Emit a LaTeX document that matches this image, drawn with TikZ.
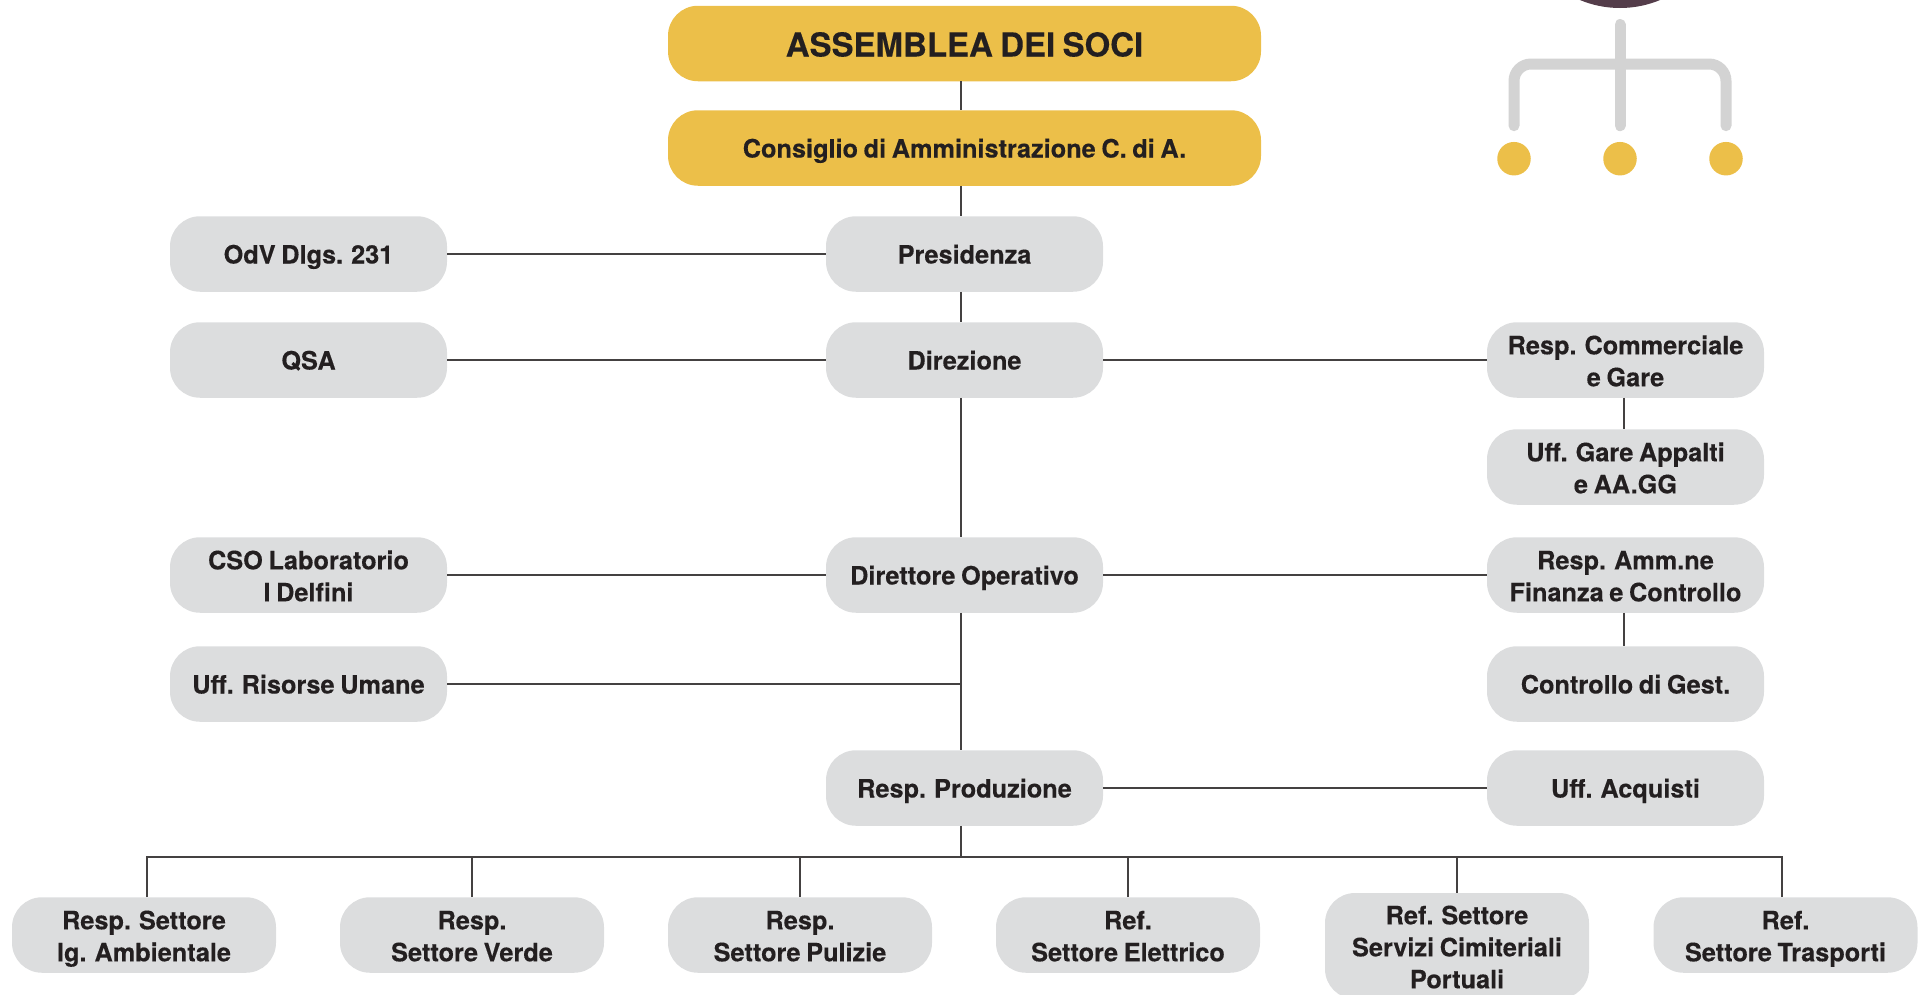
\documentclass[tikz,border=0pt]{standalone}
\usepackage{fontspec}
\setmainfont[WordSpace=0.8,BoldFeatures={FakeBold=0.25}]{TeX Gyre Heros}
\usetikzlibrary{
  calc
  , shapes.geometric
}
\definecolor{gold}{HTML}{ECBF49}
\definecolor{pale}{HTML}{DCDDDE}
\definecolor{ink}{HTML}{231F20}
\definecolor{iconbar}{HTML}{D3D3D3}
\definecolor{plum}{HTML}{543D4A}
\newcommand{\boxstrut}{\rule[-6pt]{0pt}{31pt}}
\newcommand{\lift}{\rule{0pt}{26.6pt}}
\tikzset{
  box/.style={rectangle,
    rounded corners=30pt,
    fill=pale,
    text=ink,
    align=center,
    inner sep=0pt,
    minimum width=277pt,
    minimum height=75.5pt,
    font=\fontsize{25.3}{32}\selectfont\bfseries,
    execute at begin node=\boxstrut,
    execute at end node=\boxstrut},
  lowbox/.style={box, minimum width=264pt},
  topbox/.style={box, fill=gold, minimum width=593pt},
  wire/.style={draw=ink!85, line width=1.3pt},
  iconline/.style={draw=iconbar, line width=11pt, line cap=round, rounded corners=17pt},
  icondot/.style={circle, fill=gold, minimum size=33.5pt, inner sep=0pt}
}
\begin{document}
\begin{tikzpicture}[x=1pt,y=-1pt]
      \useasboundingbox (0,0) rectangle (1919,994);

      \coordinate (Trunk) at (961,857);

      \node [topbox,
        font=\fontsize{33}{38}\selectfont\bfseries,
        execute at begin node={\rule[-6pt]{0pt}{38pt}},
        execute at end node={\rule[-6pt]{0pt}{38pt}}] (As) at (964.5,43.5) {ASSEMBLEA DEI SOCI};
      \node [topbox] (CdA) at (964.5,148) {Consiglio di Amministrazione C. di A.};

      \node [box] (Pres) at (964.5,254) {Presidenza};
      \node [box] (Dir) at (964.5,360) {Direzione};
      \node [box] (DirOp) at (964.5,575) {Direttore Operativo};
      \node [box] (Prod) at (964.5,788) {Resp. Produzione};

      \node [box] (OdV) at (308.5,254) {OdV Dlgs. 231};
      \node [box] (QSA) at (308.5,360) {QSA};
      \node [box] (CSO) at (308.5,575) {\lift CSO Laboratorio\\I Delfini};
      \node [box] (RU) at (308.5,684) {Uff. Risorse Umane};

      \node [box] (Comm) at (1625.5,360) {\lift Resp. Commerciale\\e Gare};
      \node [box] (Gare) at (1625.5,467) {\lift Uff. Gare Appalti\\e AA.GG};
      \node [box] (Amm) at (1625.5,575) {\lift Resp. Amm.ne\\Finanza e Controllo};
      \node [box] (Gest) at (1625.5,684) {Controllo di Gest.};
      \node [box] (Acq) at (1625.5,788) {Uff. Acquisti};

      \node [lowbox] (Amb) at (144,935) {\lift Resp. Settore\\Ig. Ambientale};
      \node [lowbox] (Verde) at (472,935) {\lift Resp.\\Settore Verde};
      \node [lowbox] (Pul) at (800,935) {\lift Resp.\\Settore Pulizie};
      \node [lowbox] (Elet) at (1128,935) {\lift Ref.\\Settore Elettrico};
      \node [lowbox, minimum height=106pt] (Cim) at (1457,946) {\lift Ref. Settore\\Servizi Cimiteriali\\Portuali};
      \node [lowbox] (Tras) at (1785.5,935) {\lift Ref.\\Settore Trasporti};

      \draw [wire] (Trunk |- As.south) -- (Trunk |- CdA.north);
      \draw [wire] (Trunk |- CdA.south) -- (Trunk |- Pres.north);
      \draw [wire] (Trunk |- Pres.south) -- (Trunk |- Dir.north);
      \draw [wire] (Trunk |- Dir.south) -- (Trunk |- DirOp.north);
      \draw [wire] (Trunk |- DirOp.south) -- (Trunk |- Prod.north);
      \draw [wire] (Trunk |- Prod.south) -- (Trunk);

      \draw [wire] (OdV) -- (Pres);
      \draw [wire] (QSA) -- (Dir);
      \draw [wire] (Dir) -- (Comm);
      \draw [wire] (CSO) -- (DirOp);
      \draw [wire] (DirOp) -- (Amm);
      \draw [wire] (RU.east) -- (Trunk |- RU.east);
      \draw [wire] (Prod) -- (Acq);
      \draw [wire] ([xshift=-1.5pt]Comm.south) -- ([xshift=-1.5pt]Gare.north);
      \draw [wire] ([xshift=-1.5pt]Amm.south) -- ([xshift=-1.5pt]Gest.north);

      \draw [wire] ([xshift=3pt]Amb.north) |- (Trunk);
      \draw [wire] ([xshift=-3.5pt]Tras.north) |- (Trunk);
      \draw [wire] (Verde.north) -- (Verde.north |- Trunk);
      \draw [wire] (Pul.north) -- (Pul.north |- Trunk);
      \draw [wire] (Elet.north) -- (Elet.north |- Trunk);
      \draw [wire] (Cim.north) -- (Cim.north |- Trunk);

      \fill [plum] (1620,-96) circle (104);

      \node [icondot] (DotL) at (1514,158.7) {};
      \node [icondot] (DotM) at (1620,158.7) {};
      \node [icondot] (DotR) at (1726,158.7) {};
      \coordinate (IconTop) at (1620,24.5);
      \coordinate (IconBar) at (1620,64);
      \draw [iconline] ([yshift=33pt]DotL.center) |- (IconBar) -| ([yshift=33pt]DotR.center);
      \draw [iconline] (IconTop) -- ([yshift=33pt]DotM.center);
    \end{tikzpicture}
\end{document}
